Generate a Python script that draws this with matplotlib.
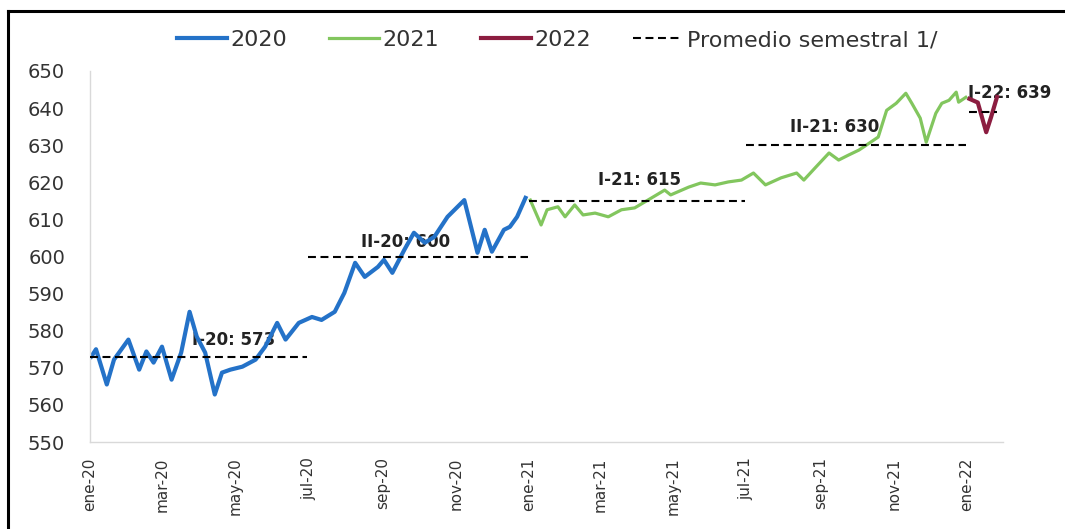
import matplotlib
matplotlib.use("Agg")
import matplotlib.pyplot as plt
import matplotlib.lines as mlines
import pandas as pd

#series
fechas_2020 = ["2020-01-02", "2020-01-06", "2020-01-15", "2020-01-21", "2020-02-02", "2020-02-11",
               "2020-02-17", "2020-02-23", "2020-03-01", "2020-03-09", "2020-03-17", "2020-03-24",
               "2020-03-30", "2020-04-06", "2020-04-14", "2020-04-20", "2020-04-27", "2020-05-07",
               "2020-05-18", "2020-05-26", "2020-06-05", "2020-06-12", "2020-06-23", "2020-07-04",
               "2020-07-12", "2020-07-23", "2020-07-31", "2020-08-09", "2020-08-17", "2020-08-28",
               "2020-09-02", "2020-09-09", "2020-09-19", "2020-09-27", "2020-10-06", "2020-10-14",
               "2020-10-25", "2020-11-08", "2020-11-19", "2020-11-25", "2020-12-01", "2020-12-11",
               "2020-12-16", "2020-12-22", "2020-12-29"]
valores_2020 = [573.0, 575.0, 565.5, 572.2, 577.6, 569.5,
                574.4, 571.4, 575.7, 566.8, 574.1, 585.1,
                578.4, 574.1, 562.8, 568.7, 569.5, 570.3,
                572.2, 575.7, 582.1, 577.6, 582.1, 583.7,
                582.9, 585.1, 590.2, 598.3, 594.5, 597.2,
                599.1, 595.6, 601.8, 606.4, 603.7, 605.3,
                610.7, 615.2, 601.0, 607.2, 601.3, 607.2,
                608.0, 610.7, 615.8]

fechas_2021 = ["2021-01-02", "2021-01-11", "2021-01-16", "2021-01-25", "2021-01-31", "2021-02-08",
               "2021-02-15", "2021-02-25", "2021-03-08", "2021-03-19", "2021-03-30", "2021-04-10",
               "2021-04-24", "2021-04-29", "2021-05-14", "2021-05-24", "2021-06-05", "2021-06-16",
               "2021-06-27", "2021-07-07", "2021-07-17", "2021-07-30", "2021-08-12", "2021-08-18",
               "2021-08-28", "2021-09-08", "2021-09-16", "2021-09-24", "2021-10-03", "2021-10-09",
               "2021-10-19", "2021-10-26", "2021-11-03", "2021-11-11", "2021-11-16", "2021-11-23",
               "2021-11-28", "2021-12-06", "2021-12-11", "2021-12-17", "2021-12-23", "2021-12-25",
               "2021-12-31"]
valores_2021 = [615.2, 608.5, 612.6, 613.4, 610.7, 613.9,
                611.2, 611.7, 610.7, 612.6, 613.1, 615.2,
                617.9, 616.6, 618.7, 619.8, 619.3, 620.1,
                620.6, 622.5, 619.3, 621.2, 622.5, 620.6,
                624.1, 627.9, 626.0, 627.3, 628.7, 630.0,
                632.2, 639.4, 641.3, 644.0, 641.3, 637.3,
                630.8, 638.6, 641.3, 642.1, 644.3, 641.6,
                642.9]

fechas_2022 = ["2022-01-03", "2022-01-10", "2022-01-17", "2022-01-21", "2022-01-26"]
valores_2022 = [642.5, 641.5, 633.5, 637.5, 643.0]

#semester averages
sem_inicio = ["2020-01-01", "2020-07-01", "2021-01-01", "2021-07-01", "2022-01-03"]
sem_fin = ["2020-06-30", "2020-12-31", "2021-06-30", "2021-12-31", "2022-01-26"]
sem_valor = [573, 600, 615, 630, 639]
sem_etiqueta = ["I-20: 573", "II-20: 600", "I-21: 615", "II-21: 630", "I-22: 639"]
etiqueta_fecha = ["2020-04-30", "2020-09-20", "2021-04-03", "2021-09-13", "2022-01-02"]
etiqueta_y = [577.6, 604.0, 620.6, 634.9, 644.0]

tick_fechas = ["2020-01-01", "2020-03-01", "2020-05-01", "2020-07-01", "2020-09-01", "2020-11-01",
               "2021-01-01", "2021-03-01", "2021-05-01", "2021-07-01", "2021-09-01", "2021-11-01",
               "2022-01-01"]
tick_labels = ["ene-20", "mar-20", "may-20", "jul-20", "sep-20", "nov-20",
               "ene-21", "mar-21", "may-21", "jul-21", "sep-21", "nov-21", "ene-22"]

plt.rcParams['font.family'] = ['DejaVu Sans']
fig = plt.figure(figsize=(10.65, 5.29), dpi=100)
ax = fig.add_axes([90/1065, 1-442/529, (1003-90)/1065, (442-71)/529])

l20, = ax.plot(pd.to_datetime(fechas_2020), valores_2020, color="#2472C8", lw=3.0, zorder=2, label="2020")
l21, = ax.plot(pd.to_datetime(fechas_2021), valores_2021, color="#82C65E", lw=2.3, zorder=2, label="2021")
l22, = ax.plot(pd.to_datetime(fechas_2022), valores_2022, color="#8C1D40", lw=3.0, zorder=2, label="2022")
dash = (0, (3.8, 2.2))
for a, b, v in zip(sem_inicio, sem_fin, sem_valor):
    lp, = ax.plot(pd.to_datetime([a, b]), [v, v], color="black", lw=1.5, linestyle=dash, zorder=3)
for t, fx, fy in zip(sem_etiqueta, etiqueta_fecha, etiqueta_y):
    ha = "left" if t.startswith("I-22") else "center"
    ax.text(pd.Timestamp(fx), fy, t, ha=ha, va="center", fontsize=12, fontweight="bold",
            color="#222222", zorder=1, clip_on=False)
lp.set_label("Promedio semestral 1/")

ax.set_ylim(550, 650)
ax.set_yticks(range(550, 651, 10))
ax.set_xlim(pd.Timestamp("2020-01-01"), pd.Timestamp("2022-01-31"))
ax.set_xticks(pd.to_datetime(tick_fechas))
ax.set_xticklabels(tick_labels, rotation=90)
ax.tick_params(axis="y", length=0, pad=18, labelsize=14, labelcolor="#333333")
ax.tick_params(axis="x", length=0, pad=11, labelsize=11, labelcolor="#333333")
for s in ["top", "right"]:
    ax.spines[s].set_visible(False)
for s in ["left", "bottom"]:
    ax.spines[s].set_color("#d9d9d9")
    ax.spines[s].set_linewidth(1)

fig.legend(handles=[l20, l21, l22, lp], loc="center", bbox_to_anchor=(0.523, 0.924), ncol=4,
           frameon=False, fontsize=16, handlelength=2.25, handletextpad=0.15, columnspacing=1.9,
           labelcolor="#333333")

#black frame: only top and left edges are in the picture
top = 1 - 11/529
left = 8/1065
fig.add_artist(mlines.Line2D([left, 1.0], [top, top], transform=fig.transFigure, color="black", lw=2.2))
fig.add_artist(mlines.Line2D([left, left], [0.0, top], transform=fig.transFigure, color="black", lw=2.2))

fig.savefig("out.png", dpi=100)
